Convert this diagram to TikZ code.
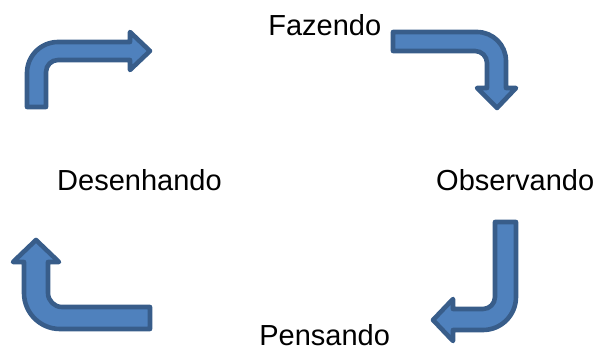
\documentclass[tikz,border=0pt]{standalone}
\usepackage{fontspec}
\setmainfont{Liberation Sans}
\definecolor{arrowfill}{HTML}{4F81BD}
\definecolor{arrowline}{HTML}{385D8A}
\tikzset{
  bent/.style={draw=arrowline,fill=arrowfill,line width=4.6pt,line join=round},
  word/.style={inner sep=0pt,anchor=base west,font=\fontsize{29}{33}\selectfont}
}
\begin{document}
\begin{tikzpicture}[x=1pt,y=-1pt]
\useasboundingbox (0,0) rectangle (597,347);
% top left arrow
\draw[bent] (27,107) -- (27,73) arc[start angle=180,end angle=270,radius=31] -- (130,42) -- (130,32) -- (150,51) -- (130,70) -- (130,60) -- (58,60) arc[start angle=270,end angle=180,radius=12] -- (46,107) -- cycle;
% top right arrow
\draw[bent] (393,32) -- (477,32) arc[start angle=270,end angle=360,radius=29] -- (506,88) -- (516,88) -- (497,108) -- (477,88) -- (487,88) -- (487,63) arc[start angle=360,end angle=270,radius=12] -- (393,51) -- cycle;
% bottom right arrow
\draw[bent] (516,222) -- (516,297) arc[start angle=0,end angle=90,radius=33] -- (453,330) -- (453,341) -- (433,320) -- (453,299) -- (453,309) -- (483,309) arc[start angle=90,end angle=0,radius=12] -- (495,222) -- cycle;
% bottom left arrow
\draw[bent] (150,329) -- (60,329) arc[start angle=90,end angle=180,radius=36] -- (24,262) -- (13,262) -- (36,240) -- (59,262) -- (48,262) -- (48,293) arc[start angle=180,end angle=90,radius=14] -- (150,307) -- cycle;
\node[word] (fazendo) at (268.2,35.3) {Fazendo};
\node[word] (desenhando) at (57,190.3) {Desenhando};
\node[word] (observando) at (436,190.3) {Observando};
\node[word] (pensando) at (259.2,345) {Pensando};
\end{tikzpicture}
\end{document}
